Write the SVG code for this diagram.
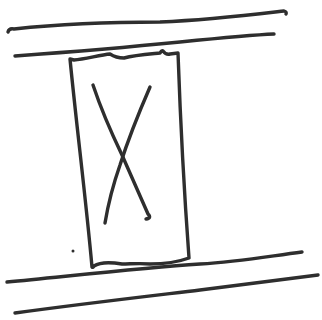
<svg xmlns="http://www.w3.org/2000/svg" width="322" height="320" viewBox="0 0 322 320">
<style>
.s{fill:none;stroke:#2e2e2e;stroke-width:3.4;stroke-linecap:round;stroke-linejoin:round}
</style>
<rect width="322" height="320" fill="#ffffff"/>
<path class="s" d="M8,32 Q9,28 14,29 C60,24 110,22 160,22 C210,20 250,15 284,11 Q287,12 286,14"/>
<path class="s" d="M15,56 C70,52 130,47 180,42 C220,38 250,35 274,34"/>
<path class="s" d="M70,59 L74,60 C85,59 100,55 110,54 Q116,58 124,58 C135,55 150,54 160,53 Q162,50 163,51 Q166,55 170,54 L178,53 C180,110 184,190 189,258 C178,262 165,264 150,264 C140,263 130,264 122,264 C110,262 100,262 94,266 Q93,268 92,267 C86,200 77,130 70,59 Z"/>
<path class="s" d="M93,85 C98,100 110,130 122,155 C132,178 142,200 148,214 Q152,218 146,219"/>
<path class="s" d="M150,87 C140,110 128,140 120,165 C113,185 108,205 105,223"/>
<circle cx="73" cy="251" r="1.5" fill="#2e2e2e"/>
<path class="s" d="M7,282 C70,276 140,268 200,264 C240,262 270,256 302,252"/>
<path class="s" d="M15,313 C80,304 150,296 200,290 C240,285 280,280 318,275"/>
</svg>
